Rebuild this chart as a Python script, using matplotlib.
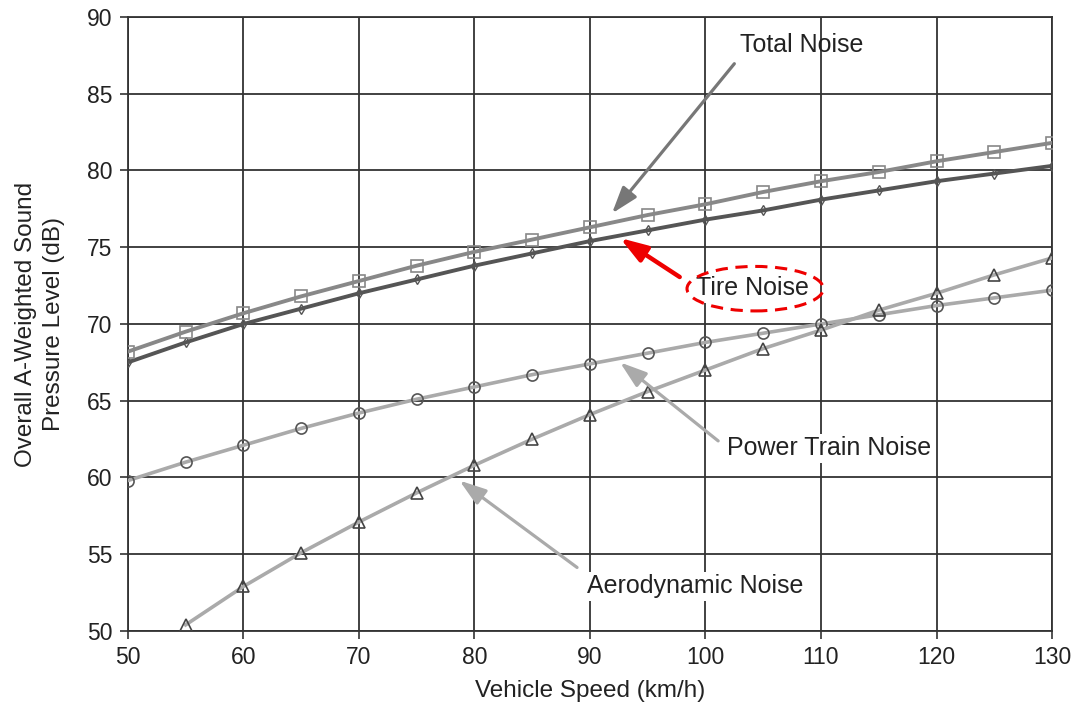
import matplotlib.pyplot as plt
import numpy as np
from matplotlib.patches import Ellipse

plt.rcParams['font.family'] = ['Liberation Sans', 'DejaVu Sans']

speed = [50, 55, 60, 65, 70, 75, 80, 85, 90, 95, 100, 105, 110, 115, 120, 125, 130]
total_noise = [68.2, 69.5, 70.7, 71.8, 72.8, 73.8, 74.7, 75.5, 76.3, 77.1, 77.8,
               78.6, 79.3, 79.9, 80.6, 81.2, 81.8]
tire_noise = [67.5, 68.8, 70.0, 71.0, 72.0, 72.9, 73.8, 74.6, 75.4, 76.1, 76.8,
              77.4, 78.1, 78.7, 79.3, 79.8, 80.3]
power_train = [59.8, 61.0, 62.1, 63.2, 64.2, 65.1, 65.9, 66.7, 67.4, 68.1, 68.8,
               69.4, 70.0, 70.6, 71.2, 71.7, 72.2]
aero_speed = speed[1:]
aero_noise = [50.4, 52.9, 55.1, 57.1, 59.0, 60.8, 62.5, 64.1, 65.6, 67.0,
              68.4, 69.6, 70.9, 72.0, 73.2, 74.3]

fig = plt.figure(figsize=(10.77, 7.08), dpi=100)
ax = fig.add_axes([0.1188, 0.1088, 0.858, 0.8672])

ax.plot(speed, power_train, color='#aaaaaa', lw=2.6, marker='o', ms=8,
        mfc='none', mec='#555555', mew=1.2, zorder=3)
ax.plot(aero_speed, aero_noise, color='#aaaaaa', lw=2.6, marker='^', ms=8,
        mfc='none', mec='#444444', mew=1.2, zorder=3)
ax.plot(speed, tire_noise, color='#555555', lw=2.8, marker='d', ms=5,
        mfc='none', mec='#555555', mew=1.0, zorder=4)
ax.plot(speed, total_noise, color='#888888', lw=2.8, marker='s', ms=8,
        mfc='none', mec='#888888', mew=1.2, zorder=4)

ax.set_xlim(50, 130)
ax.set_ylim(50, 90)
ax.set_xticks(np.arange(50, 131, 10))
ax.set_yticks(np.arange(50, 91, 5))
ax.grid(True, color='#333333', lw=1.3)
ax.set_axisbelow(True)
for s in ax.spines.values():
    s.set_color('#333333')
    s.set_linewidth(1.3)
ax.tick_params(labelsize=16.5, length=6, width=1.2, pad=5, color='#333333',
               labelcolor='#222222')
ax.set_xlabel('Vehicle Speed (km/h)', fontsize=17.5, color='#222222', labelpad=8)
ax.set_ylabel('Overall A-Weighted Sound\nPressure Level (dB)', fontsize=17.5,
              color='#222222', labelpad=16, linespacing=1.35)

box = dict(facecolor='white', edgecolor='none', pad=2)
head = '-|>,head_length=0.9,head_width=0.3'
ax.annotate('Total Noise', xy=(91.9, 77.2), xytext=(103.0, 88.2), fontsize=18,
            color='#222222', va='center', ha='left',
            arrowprops=dict(arrowstyle=head, color='#777777', lw=2.3,
                            relpos=(0, 0), shrinkA=4, shrinkB=0))
ax.annotate('Tire Noise', xy=(92.6, 75.6), xytext=(104.1, 72.35), fontsize=18,
            color='#222222', va='center', ha='center', bbox=box,
            arrowprops=dict(arrowstyle=head, color='#ee0000', lw=3.2,
                            relpos=(0, 0.5), shrinkA=12, shrinkB=0))
ax.add_patch(Ellipse((104.3, 72.3), 11.8, 2.9, fill=False, edgecolor='#ee0000',
                     lw=2.2, ls=(0, (4, 2.5)), zorder=6))
ax.annotate('Power Train Noise', xy=(92.6, 67.5), xytext=(101.9, 61.9), fontsize=18,
            color='#222222', va='center', ha='left', bbox=box,
            arrowprops=dict(arrowstyle=head, color='#aaaaaa', lw=2.3,
                            relpos=(0, 0.5), shrinkA=6, shrinkB=0))
ax.annotate('Aerodynamic Noise', xy=(78.7, 59.8), xytext=(89.7, 52.9), fontsize=18,
            color='#222222', va='center', ha='left', bbox=box,
            arrowprops=dict(arrowstyle=head, color='#aaaaaa', lw=2.3,
                            relpos=(0, 1), shrinkA=6, shrinkB=0))

fig.savefig('out.png', dpi=100)
